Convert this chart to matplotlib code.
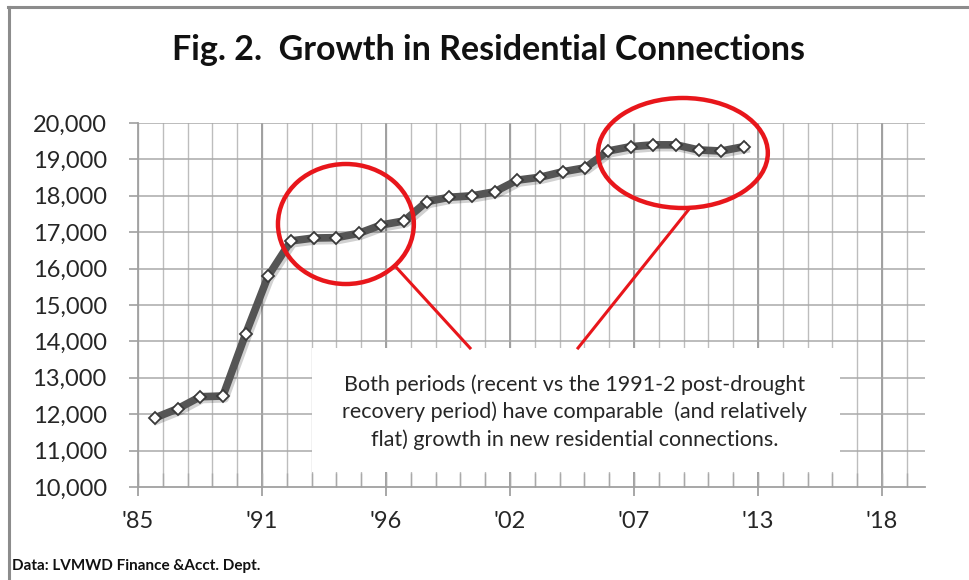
import matplotlib.pyplot as plt
import matplotlib.patheffects as pe
from matplotlib.patches import Ellipse, Rectangle
from matplotlib.lines import Line2D
import numpy as np

plt.rcParams['font.family'] = ['Lato', 'DejaVu Sans']

# residential connections, one point per year (mid-year)
years = list(range(1986, 2013))
connections = [11900, 12150, 12480, 12500, 14200, 15800, 16760, 16840, 16850, 16970,
               17200, 17310, 17840, 17960, 18000, 18110, 18430, 18510, 18660, 18770,
               19230, 19350, 19400, 19400, 19260, 19230, 19350]

title = "Fig. 2.  Growth in Residential Connections"
note = ("Both periods (recent vs the 1991-2 post-drought\n"
        "recovery period) have comparable  (and relatively\n"
        "flat) growth in new residential connections.")
source = "Data: LVMWD Finance &Acct. Dept."

# Excel-style date axis: major every 2000 days, minor every 400 days
x0 = 1985.75
major = x0 + np.arange(7) * 2000 / 365.25
minor = x0 + np.arange(32) * 400 / 365.25
major_labels = ["'%02d" % (int(t) % 100) for t in major]

fig = plt.figure(figsize=(9.69, 5.80), dpi=100)
ax = fig.add_axes([138 / 969, 1 - 487 / 580, (925 - 138) / 969, (487 - 123) / 580])

ax.set_xlim(x0, 2020.5)
ax.set_ylim(10000, 20000)

for t in minor:
    ax.axvline(t, color='#bdbdbd', lw=1.0, zorder=0.3)
for t in major[1:]:
    ax.axvline(t, color='#a0a0a0', lw=1.4, zorder=0.3)
for v in range(11000, 20001, 1000):
    ax.axhline(v, color='#a9a9a9', lw=1.1, zorder=0.3)

# white note box hides the grid behind it
ax.add_patch(Rectangle((1993.43, 10412), 2016.74 - 1993.43, 13819 - 10412,
                       facecolor='white', edgecolor='none', zorder=1))

years_x = [y + 0.5 for y in years]
ax.plot(years_x, connections, color='#555555', lw=5.5,
        solid_joinstyle='round', zorder=3,
        path_effects=[pe.SimpleLineShadow(offset=(1.5, -2), shadow_color='#000000', alpha=0.18),
                      pe.Normal()])
ax.plot(years_x, connections, ls='none', marker='D', ms=6.5, mfc='white',
        mec='#3a3a3a', mew=1.3, zorder=4)

# red call-out ellipses and pointer lines
for (cx, cy, w, h) in [(1994.93, 17225, 6.0, 3297), (2009.81, 19176, 7.5, 3022)]:
    ax.add_patch(Ellipse((cx, cy), w, h, facecolor='none', edgecolor='#e8161b',
                         lw=3.2, zorder=5, clip_on=False))
ax.add_line(Line2D([1997.18, 2000.41], [16016, 13819], color='#e8161b', lw=2.2, zorder=5))
ax.add_line(Line2D([2005.18, 2010.12], [13819, 17665], color='#e8161b', lw=2.2, zorder=5))

ax.text(2005.04, 12060, note, ha='center', va='center', fontsize=15.5,
        color='#262626', linespacing=1.4, zorder=6)

for s in ['top', 'right']:
    ax.spines[s].set_visible(False)
for s in ['left', 'bottom']:
    ax.spines[s].set_color('#a0a0a0')
    ax.spines[s].set_linewidth(1.3)

ax.set_yticks(range(10000, 20001, 1000))
ax.set_yticklabels(['{:,}'.format(v) for v in range(10000, 20001, 1000)])
ax.set_xticks(major)
ax.set_xticklabels(major_labels)
ax.set_xticks(minor, minor=True)
ax.xaxis.remove_overlapping_locs = False
ax.tick_params(axis='y', length=6.5, width=1.2, color='#a0a0a0', pad=16,
               labelsize=17, labelcolor='#262626')
ax.tick_params(axis='x', which='major', direction='out', length=6.5, width=1.3,
               color='#a0a0a0', pad=11, labelsize=17, labelcolor='#262626')
ax.tick_params(axis='x', which='minor', direction='in', length=10, width=1.0,
               color='#a9a9a9')

fig.text(488 / 969, 1 - 50 / 580, title, ha='center', va='center',
         fontsize=24.5, fontweight='bold', color='#111111')
fig.text(12 / 969, 1 - 566 / 580, source, ha='left', va='center',
         fontsize=11, fontweight='bold', color='#111111')

# outer frame (top and left)
fig.add_artist(Line2D([8 / 969, 1], [1 - 7 / 580, 1 - 7 / 580], color='#8c8c8c', lw=2.2))
fig.add_artist(Line2D([9 / 969, 9 / 969], [0, 1 - 7 / 580], color='#8c8c8c', lw=2.2))

fig.savefig('out.png', dpi=100)
